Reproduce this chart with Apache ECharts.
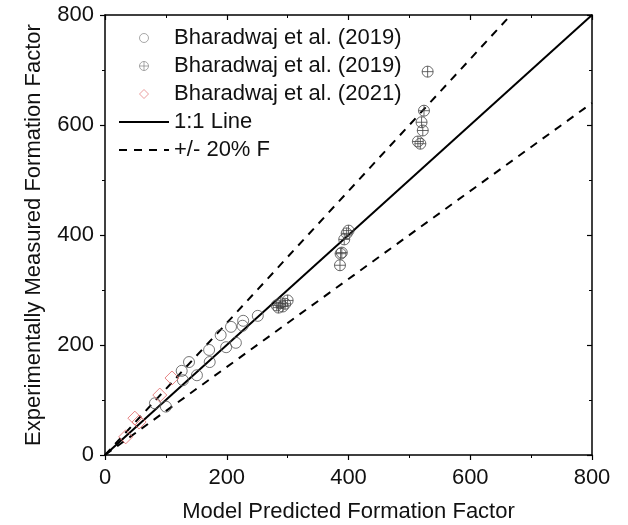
<!DOCTYPE html>
<html><head><meta charset="utf-8">
<script src="https://cdn.jsdelivr.net/npm/echarts@6/dist/echarts.min.js"></script>
<style>html,body{margin:0;padding:0;background:#fff}#c{width:628px;height:525px}</style>
</head><body><div id="c"></div>
<script>
var xTicks = [0, 200, 400, 600, 800];
var yTicks = [0, 200, 400, 600, 800];
var openCircles2019 = [[82,94],[100,88],[126,153],[128,136],[138,169],[151,145],[171,191],[172,169],[190,218],[199,196],[207,233],[215,204],[226,235],[227,244],[251,253]];
var crossCircles2019 = [[282,272],[285,268],[288,276],[292,270],[296,275],[300,281],[386,345],[387,366],[389,368],[393,392],[397,403],[400,408],[514,570],[518,566],[520,605],[522,590],[524,626],[530,697]];
var diamonds2021 = [[34,33],[49,67],[56,60],[90,109],[110,140]];
var oneToOne = [[0,0],[800,800]];
var upper20 = [[0,0],[666.67,800]];
var lower20 = [[0,0],[800,640]];

var font = 'Liberation Sans, Arial, sans-serif';
var crossPath = 'path://M0,-10A10,10 0 1,1 0,10A10,10 0 1,1 0,-10ZM-10,0L10,0M0,-10L0,10';
var diamondPath = 'path://M0,-10L10,0L0,10L-10,0Z';
var chart = echarts.init(document.getElementById('c'));
function axisCommon(show) {
  return {
    type: 'value', min: 0, max: 800, interval: 200,
    axisLine: {show: true, onZero: false, lineStyle: {color: '#000', width: 1.5}},
    splitLine: {show: false},
    minorTick: {show: true, splitNumber: 2, length: 3, lineStyle: {color: '#000', width: 1}},
    axisTick: {show: true, length: 5, lineStyle: {color: '#000', width: 1.2}},
    axisLabel: {show: show, color: '#111', fontSize: 22, fontFamily: font}
  };
}
var xb = axisCommon(true);
xb.position = 'bottom'; xb.name = 'Model Predicted Formation Factor';
xb.nameLocation = 'middle'; xb.nameGap = 46;
xb.nameTextStyle = {color: '#111', fontSize: 22, fontFamily: font};
xb.axisLabel.margin = 12;
var xt = axisCommon(false); xt.position = 'top'; xt.axisTick.inside = true; xt.minorTick.inside = true;
var yl = axisCommon(true);
yl.position = 'left'; yl.name = 'Experimentally Measured Formation Factor';
yl.nameLocation = 'middle'; yl.nameGap = 60;
yl.nameTextStyle = {color: '#111', fontSize: 22, fontFamily: font};
yl.axisLabel.margin = 11;
var yr = axisCommon(false); yr.position = 'right'; yr.axisTick.inside = true;

var hideSym = {opacity: 0};
chart.setOption({
  animation: false,
  grid: {left: 105, right: 36, top: 15, bottom: 70, containLabel: false, outerBoundsMode: 'none'},
  xAxis: [xb, xt],
  yAxis: [yl, yr],
  legend: {
    orient: 'vertical', left: 113, top: 22, itemWidth: 50, itemHeight: 9, itemGap: 6,
    textStyle: {color: '#111', fontSize: 22, fontFamily: font, lineHeight: 22},
    data: [
      {name: 'Bharadwaj et al. (2019)', icon: 'circle', itemStyle: {borderWidth: 0.8, borderColor: '#777'}},
      {name: 'Bharadwaj et al. (2019) ', icon: crossPath, itemStyle: {borderWidth: 0.8, borderColor: '#777'}},
      {name: 'Bharadwaj et al. (2021)', icon: diamondPath, itemStyle: {borderWidth: 0.8}},
      {name: '1:1 Line', itemStyle: hideSym},
      {name: '+/- 20% F', itemStyle: hideSym}
    ]
  },
  series: [
    {name: 'Bharadwaj et al. (2019)', type: 'scatter', data: openCircles2019, symbol: 'circle', symbolSize: 11,
     itemStyle: {color: 'rgba(0,0,0,0)', borderColor: '#555', borderWidth: 1}, z: 3},
    {name: 'Bharadwaj et al. (2019) ', type: 'scatter', data: crossCircles2019, symbol: crossPath, symbolSize: 11,
     itemStyle: {color: 'rgba(0,0,0,0)', borderColor: '#444', borderWidth: 1}, z: 3},
    {name: 'Bharadwaj et al. (2021)', type: 'scatter', data: diamonds2021, symbol: diamondPath, symbolSize: 14,
     itemStyle: {color: 'rgba(0,0,0,0)', borderColor: '#e06666', borderWidth: 1}, z: 3},
    {name: '1:1 Line', type: 'line', data: oneToOne, symbol: 'none', lineStyle: {color: '#000', width: 2}, itemStyle: {color: '#000'}, z: 2},
    {name: '+/- 20% F', type: 'line', data: upper20, symbol: 'none', lineStyle: {color: '#000', width: 2, type: [8, 7]}, itemStyle: {color: '#000'}, z: 2},
    {name: '+/- 20% F', type: 'line', data: lower20, symbol: 'none', lineStyle: {color: '#000', width: 2, type: [8, 7]}, itemStyle: {color: '#000'}, z: 2}
  ]
});
</script></body></html>
